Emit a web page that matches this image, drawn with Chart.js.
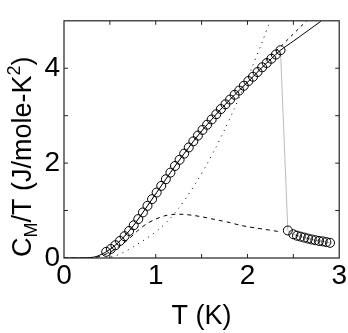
<!DOCTYPE html>
<html>
<head>
  <meta charset="UTF-8">
  <title>C_M/T vs T</title>
  <style>
    body { margin: 0; background: #fff; }
    #wrap { width: 348px; height: 333px; }
  </style>
  <script src="https://cdn.jsdelivr.net/npm/chart.js@4/dist/chart.umd.min.js"></script>
</head>
<body>
  <div id="wrap"><canvas id="c" width="348" height="333"></canvas></div>

  <script>
    // measured points (open circles)
    const tempPts = [0.46, 0.51, 0.56, 0.61, 0.66, 0.71, 0.76, 0.81, 0.86, 0.91, 0.96, 1.01, 1.06, 1.11,
      1.16, 1.21, 1.26, 1.31, 1.36, 1.41, 1.46, 1.51, 1.56, 1.61, 1.66, 1.71, 1.76, 1.81, 1.86, 1.91,
      1.96, 2.01, 2.06, 2.11, 2.16, 2.21, 2.26, 2.31, 2.36,
      2.44, 2.50, 2.54, 2.58, 2.62, 2.66, 2.70, 2.74, 2.78, 2.82, 2.86, 2.90];
    const cmPts = [0.13, 0.19, 0.27, 0.36, 0.46, 0.57, 0.69, 0.82, 0.96, 1.10, 1.24, 1.38, 1.52, 1.66,
      1.80, 1.94, 2.07, 2.20, 2.33, 2.46, 2.58, 2.70, 2.81, 2.92, 3.03, 3.14, 3.24, 3.34, 3.44, 3.53,
      3.63, 3.73, 3.82, 3.92, 4.02, 4.11, 4.20, 4.29, 4.38,
      0.58, 0.50, 0.47, 0.45, 0.43, 0.41, 0.39, 0.375, 0.36, 0.35, 0.335, 0.32];

    // solid fit
    const fitT = [0, 0.25, 0.33, 0.39, 0.46, 0.56, 0.66, 0.76, 0.86, 0.96, 1.06, 1.16, 1.26, 1.36,
      1.46, 1.56, 1.66, 1.76, 1.86, 1.96, 2.06, 2.16, 2.26, 2.36, 2.50, 2.65, 2.80];
    const fitC = [0, 0.005, 0.02, 0.06, 0.13, 0.27, 0.46, 0.69, 0.96, 1.24, 1.52, 1.80, 2.07, 2.33,
      2.58, 2.81, 3.03, 3.24, 3.44, 3.63, 3.82, 4.02, 4.20, 4.38, 4.57, 4.78, 4.99];

    // dashed hump
    const humpT = [0, 0.3, 0.4, 0.5, 0.6, 0.7, 0.8, 0.9, 1.0, 1.1, 1.2, 1.3, 1.4, 1.5, 1.6, 1.7, 1.8,
      1.9, 2.0, 2.1, 2.2, 2.3, 2.36];
    const humpC = [0, 0, 0.04, 0.12, 0.24, 0.39, 0.57, 0.72, 0.82, 0.89, 0.92, 0.92, 0.90, 0.87, 0.83,
      0.79, 0.75, 0.70, 0.66, 0.63, 0.60, 0.57, 0.55];

    // dashed line above the transition
    const upT = [2.2, 2.4, 2.66];
    const upC = [4.16, 4.53, 5.03];

    // dotted curve
    const dotT = [0.45, 0.55, 0.65, 0.75, 0.85, 0.95, 1.05, 1.15, 1.25, 1.35, 1.45, 1.55, 1.65, 1.75,
      1.85, 1.95, 2.05, 2.15, 2.25];
    const dotC = [0, 0.04, 0.12, 0.23, 0.35, 0.48, 0.63, 0.82, 1.05, 1.32, 1.62, 1.95, 2.31, 2.70,
      3.12, 3.56, 4.02, 4.50, 5.02];

    const xyPairs = (xs, ys) => xs.map((x, i) => ({ x: x, y: ys[i] }));
    const FONT = "'Liberation Sans', Arial, sans-serif";

    // frame, inward ticks on all four sides, and the y title with sub/superscript
    const framePlugin = {
      id: 'frame',
      afterDraw(chart) {
        const { ctx, chartArea: a, scales } = chart;
        ctx.save();
        ctx.strokeStyle = '#222';
        ctx.lineWidth = 1.2;
        ctx.strokeRect(a.left, a.top, a.right - a.left, a.bottom - a.top);
        ctx.lineWidth = 1;
        const len = 4;
        for (let v = 0.5; v < 3; v += 0.5) {
          const px = scales.x.getPixelForValue(v);
          ctx.beginPath();
          ctx.moveTo(px, a.bottom); ctx.lineTo(px, a.bottom - len);
          ctx.moveTo(px, a.top); ctx.lineTo(px, a.top + len);
          ctx.stroke();
        }
        for (let v = 1; v < 5; v++) {
          const py = scales.y.getPixelForValue(v);
          ctx.beginPath();
          ctx.moveTo(a.left, py); ctx.lineTo(a.left + len, py);
          ctx.moveTo(a.right, py); ctx.lineTo(a.right - len, py);
          ctx.stroke();
        }

        // y title: C_M/T (J/mole-K^2)
        const big = '27px ' + FONT, small = '18px ' + FONT;
        const parts = [
          { t: 'C', f: big, dy: 0 },
          { t: 'M', f: small, dy: 6 },
          { t: '/T (J/mole-K', f: big, dy: 0 },
          { t: '2', f: small, dy: -11 },
          { t: ')', f: big, dy: 0 }
        ];
        ctx.translate(31, 257);
        ctx.rotate(-Math.PI / 2);
        ctx.fillStyle = '#000';
        ctx.textBaseline = 'alphabetic';
        ctx.textAlign = 'left';
        let x = 0;
        parts.forEach(p => {
          ctx.font = p.f;
          ctx.fillText(p.t, x, p.dy);
          x += ctx.measureText(p.t).width;
        });
        ctx.restore();
      }
    };

    new Chart(document.getElementById('c'), {
      type: 'scatter',
      data: {
        datasets: [
          {
            label: 'fit',
            data: xyPairs(fitT, fitC),
            showLine: true, pointRadius: 0,
            borderColor: '#000', borderWidth: 1, tension: 0.3
          },
          {
            label: 'hump',
            data: xyPairs(humpT, humpC),
            showLine: true, pointRadius: 0,
            borderColor: '#000', borderWidth: 1, borderDash: [4, 4], tension: 0.3
          },
          {
            label: 'upper',
            data: xyPairs(upT, upC),
            showLine: true, pointRadius: 0,
            borderColor: '#000', borderWidth: 1, borderDash: [3, 4]
          },
          {
            label: 'dotted',
            data: xyPairs(dotT, dotC),
            showLine: true, pointRadius: 0,
            borderColor: '#000', borderWidth: 1, borderDash: [1, 5], tension: 0.3
          },
          {
            label: 'data',
            data: xyPairs(tempPts, cmPts),
            showLine: true,
            borderColor: '#aaa', borderWidth: 0.8,
            pointRadius: 4.5, pointBorderColor: '#000', pointBorderWidth: 1,
            pointBackgroundColor: 'rgba(0,0,0,0)'
          }
        ]
      },
      options: {
        responsive: false,
        animation: false,
        layout: { padding: { top: 7, right: 7, left: 0, bottom: 0 } },
        plugins: { legend: { display: false }, tooltip: { enabled: false } },
        scales: {
          x: {
            type: 'linear', min: 0, max: 3,
            grid: { display: false, drawTicks: false },
            border: { display: false },
            afterFit: s => { s.height = 75; },
            ticks: {
              stepSize: 0.5, autoSkip: false, maxRotation: 0, padding: 1,
              color: '#000', font: { size: 28, family: FONT },
              callback: v => Number.isInteger(v) ? v : ''
            },
            title: {
              display: true, text: 'T (K)', color: '#000',
              font: { size: 27, family: FONT }, padding: { top: 0, bottom: 0 }
            }
          },
          y: {
            type: 'linear', min: 0, max: 5,
            grid: { display: false, drawTicks: false },
            border: { display: false },
            afterFit: s => { s.width = 64; },
            ticks: {
              stepSize: 1, padding: 4,
              color: '#000', font: { size: 28, family: FONT },
              callback: v => v % 2 === 0 ? v : ''
            }
          }
        }
      },
      plugins: [framePlugin]
    });
  </script>
</body>
</html>
